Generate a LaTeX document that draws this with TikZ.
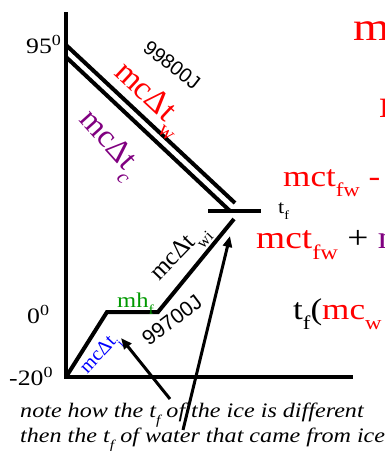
\documentclass[tikz,border=0pt]{standalone}
\usepackage{fontspec}
\setmainfont{Liberation Serif}
\newfontfamily\sansf{Liberation Sans}
\usetikzlibrary{arrows.meta}
\definecolor{cred}{RGB}{255,0,0}
\definecolor{cpurple}{RGB}{128,0,128}
\definecolor{cgreen}{RGB}{0,153,0}
\definecolor{cblue}{RGB}{0,0,255}
\newcommand\fs[1]{\fontsize{#1}{#1}\selectfont}
\newcommand\lsub[1]{\raisebox{-0.36em}{\scalebox{0.65}{#1}}}
\newcommand\hs[1]{\scalebox{1.17}[1]{#1}}
\begin{document}
\begin{tikzpicture}[x=1pt,y=-1pt,
  curve/.style={line width=4pt},
  pointer/.style={line width=3pt,-{Triangle[length=11pt,width=9pt]}},
  lbl/.style={inner sep=0pt, anchor=base west},
  rlbl/.style={inner sep=0pt, anchor=center}]
\useasboundingbox (0,0) rectangle (385,451);
\clip (0,0) rectangle (385,451);
% axes
\coordinate (axtop) at (66,12);
\coordinate (origin) at (66,377);
\coordinate (axend) at (353,377);
\draw[curve] (axtop) -- (origin) -- (axend);
% water / calorimeter lines
\coordinate (w1s) at (66,45);
\coordinate (w1e) at (235,203);
\coordinate (w2s) at (66,57);
\coordinate (w2e) at (230,211);
\draw[curve] (w1s) -- (w1e);
\draw[curve] (w2s) -- (w2e);
% final temperature bar
\coordinate (bl) at (208,211);
\coordinate (br) at (261,211);
\draw[curve] (bl) -- (br);
% ice path
\coordinate (i1) at (107,312);
\coordinate (i2) at (158,312);
\coordinate (i3) at (234,219);
\draw[curve] (origin) -- (i1) -- (i2) -- (i3);
% axis labels
\node[lbl] (t95) at (26,53) {\hs{\fs{22}95\textsuperscript{0}}};
\node[lbl] (t0) at (27,323) {\hs{\fs{22}0\textsuperscript{0}}};
\node[lbl] (tm20) at (9,385) {\hs{\fs{22}-20\textsuperscript{0}}};
% line labels
\node[rlbl, rotate=-38] (j1) at (172,65) {\fs{20}\sansf 99800J};
\node[rlbl, rotate=-43, text=cred] (lw) at (148,100) {\fs{33}mcΔt\lsub{w}};
\node[rlbl, rotate=-48, text=cpurple] (lc) at (108,146) {\fs{32}mcΔt\lsub{\itshape c}};
\node[lbl] (tf) at (278,213) {\hs{\fs{19}t\lsub{f}}};
\node[rlbl, rotate=46] (lwi) at (181,254) {\fs{25}mcΔt\lsub{wi}};
\node[lbl, text=cgreen] (lh) at (117,307) {\hs{\fs{21}mh\lsub{f}}};
\node[rlbl, rotate=37] (j2) at (172,320) {\fs{21}\sansf 99700J};
\node[rlbl, rotate=47, text=cblue] (li) at (101,355) {\fs{20}mcΔt\lsub{i}};
% right side equations (clipped)
\node[lbl, text=cred] (e1) at (353,40) {\hs{\fs{40}mc}};
\node[lbl, text=cred] (e2) at (379,117) {\hs{\fs{40}mc}};
\node[lbl, text=cred] (e3) at (283,186) {\hs{\fs{30}mct\lsub{fw} -}};
\node[lbl] (e4) at (256,248) {\hs{\fs{32}\textcolor{cred}{mct\lsub{fw}} + \textcolor{cpurple}{m}}};
\node[lbl] (e5) at (293,319) {\hs{\fs{30}t\lsub{f}(\textcolor{cred}{mc\lsub{w}}}};
% note
\node[lbl] (n1) at (20,417) {\hs{\fs{20.6}\itshape note how the t\lsub{f} of the ice is different}};
\node[lbl] (n2) at (20,442) {\hs{\fs{20.6}\itshape then the t\lsub{f} of water that came from ice}};
% pointers
\coordinate (a1s) at (170,399);
\coordinate (a1e) at (121,338);
\coordinate (a2s) at (183,430);
\coordinate (a2e) at (230,236);
\draw[pointer] (a1s) -- (a1e);
\draw[pointer] (a2s) -- (a2e);
\end{tikzpicture}
\end{document}
